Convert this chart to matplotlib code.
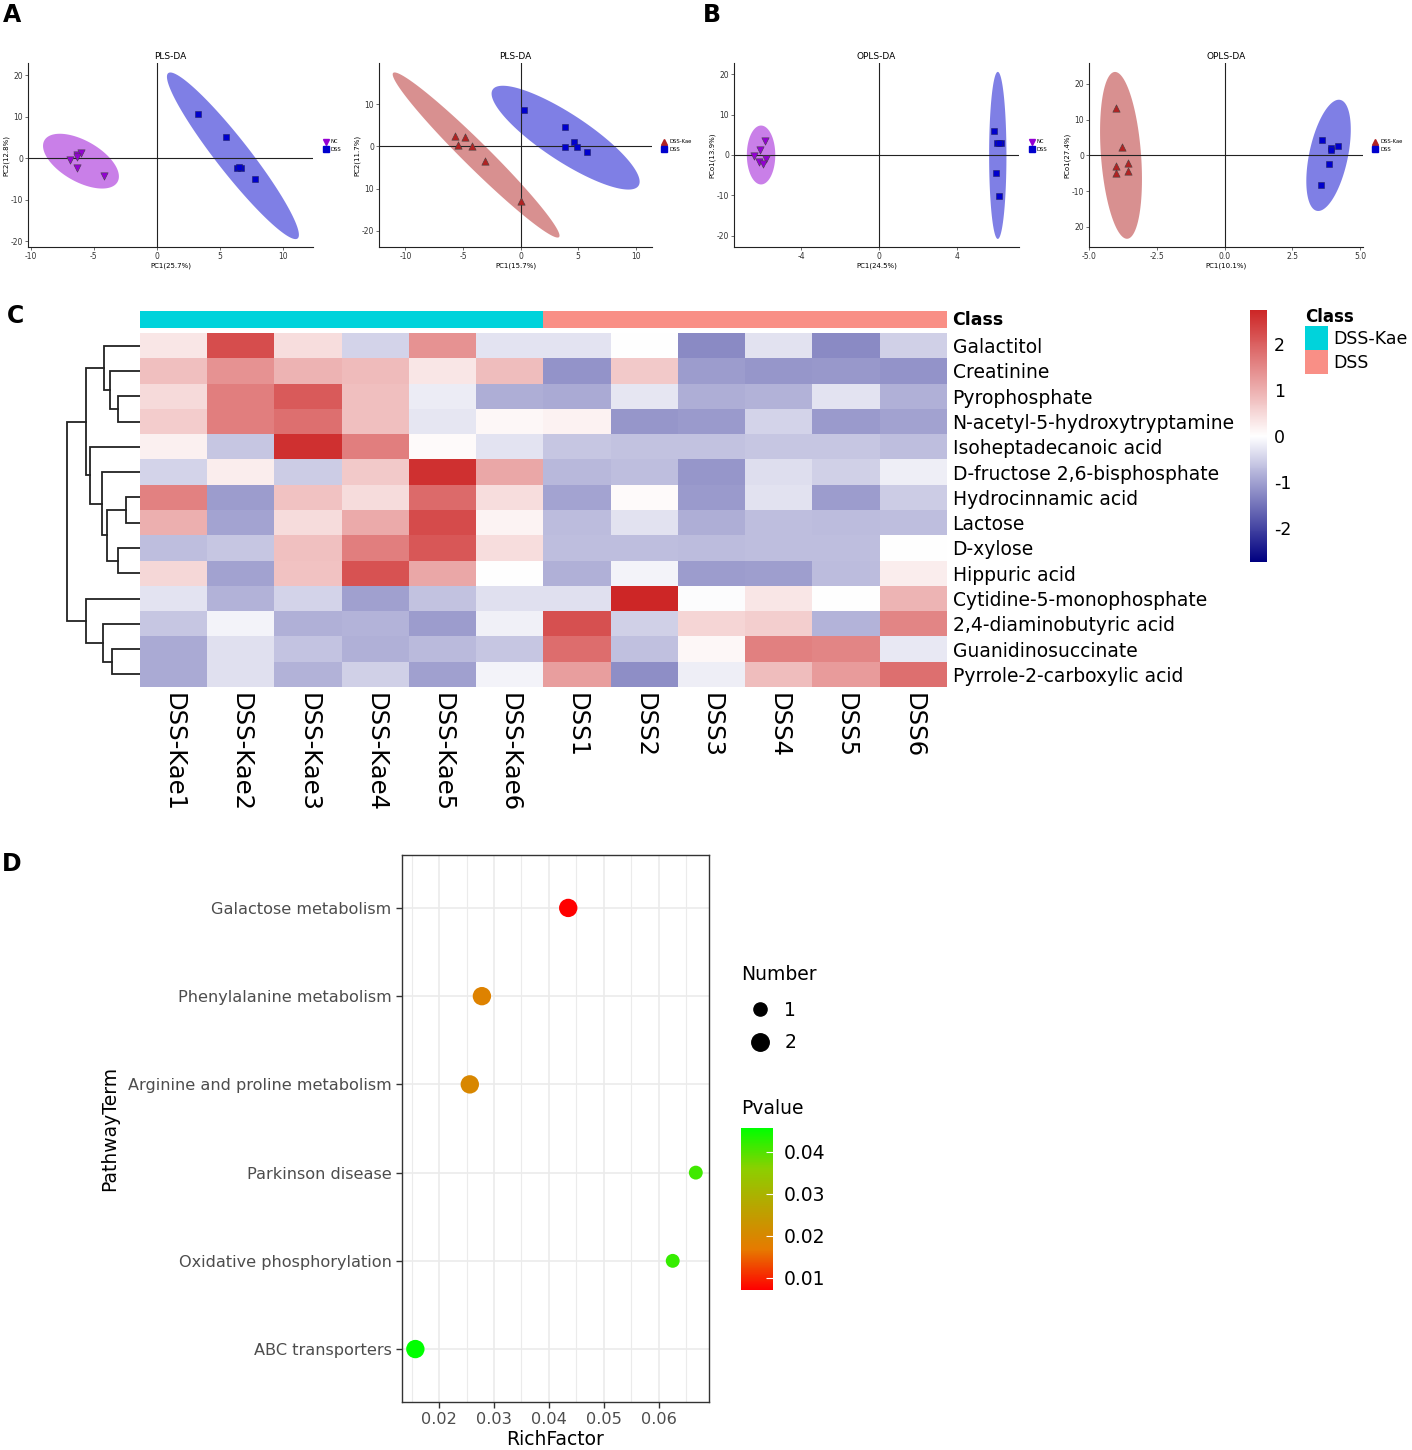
import numpy as np
import matplotlib
matplotlib.use('Agg')
import matplotlib.pyplot as plt
from matplotlib.colors import LinearSegmentedColormap, ListedColormap
from matplotlib.lines import Line2D
from matplotlib.patches import Patch

plt.rcParams['font.family'] = ['DejaVu Sans']

# ---------------- Panel A / B : score plots ----------------
# ellipse params: centre x, centre y, semi-axis-1 (dx, dy), semi-axis-2 (dx, dy)
pls1_nc_x = [-6.9, -6.3, -6.0, -6.3, -6.3, -4.2]
pls1_nc_y = [-0.5, 0.7, 1.3, 0.3, -2.3, -4.4]
pls1_dss_x = [3.3, 5.5, 6.4, 6.7, 6.5, 7.8]
pls1_dss_y = [10.6, 5.2, -2.3, -2.3, -2.2, -5.0]
pls1_nc_ell = [-6.0, -0.73, 2.9, -5.0, -0.8, -4.3]
pls1_dss_ell = [6.05, 0.56, -5.13, 19.9, 1.03, 2.5]

pls2_kae_x = [-5.66, -4.80, -5.43, -4.22, -3.06, 0.06]
pls2_kae_y = [2.37, 2.13, 0.39, 0.16, -3.39, -13.0]
pls2_dss_x = [0.29, 3.87, 4.62, 3.82, 4.91, 5.78]
pls2_dss_y = [8.5, 4.5, 0.95, -0.24, -0.16, -1.26]
pls2_kae_ell = [-3.87, -2.05, -7.2, 19.4, 0.77, 2.13]
pls2_dss_ell = [3.9, 2.05, 6.33, -11.37, -1.11, -4.62]

opls1_nc_x = [-5.87, -6.10, -6.42, -6.18, -5.82, -5.96]
opls1_nc_y = [3.55, 1.32, -0.25, -1.65, -0.99, -2.23]
opls1_dss_x = [5.89, 6.06, 6.25, 6.16, 5.99, 6.15]
opls1_dss_y = [5.87, 2.98, 2.98, 2.98, -4.46, -10.2]
opls1_nc_ell = [-6.06, 0.0, 0.0, 7.3, 0.73, 0.0]
opls1_dss_ell = [6.1, -0.1, 0.0, 20.7, 0.445, 0.0]

opls2_kae_x = [-4.01, -3.77, -4.01, -3.99, -3.56, -3.56]
opls2_kae_y = [13.2, 2.24, -2.99, -5.05, -2.24, -4.3]
opls2_dss_x = [3.58, 3.93, 3.92, 4.17, 3.83, 3.56]
opls2_dss_y = [4.3, 2.15, 1.5, 2.71, -2.43, -8.3]
opls2_kae_ell = [-3.82, 0.0, -0.234, 23.3, 0.736, 0.43]
opls2_dss_ell = [3.83, 0.0, 0.431, 15.5, 0.697, -1.11]

# ---------------- Panel C : heatmap ----------------
metabolites = ['Galactitol', 'Creatinine', 'Pyrophosphate', 'N-acetyl-5-hydroxytryptamine',
               'Isoheptadecanoic acid', 'D-fructose 2,6-bisphosphate', 'Hydrocinnamic acid',
               'Lactose', 'D-xylose', 'Hippuric acid', 'Cytidine-5-monophosphate',
               '2,4-diaminobutyric acid', 'Guanidinosuccinate', 'Pyrrole-2-carboxylic acid']
samples = ['DSS-Kae1', 'DSS-Kae2', 'DSS-Kae3', 'DSS-Kae4', 'DSS-Kae5', 'DSS-Kae6',
           'DSS1', 'DSS2', 'DSS3', 'DSS4', 'DSS5', 'DSS6']
sample_class = ['DSS-Kae'] * 6 + ['DSS'] * 6
zscores = np.array([
    [0.32, 2.23, 0.42, -0.45, 1.35, -0.28, -0.29, 0.0, -1.26, -0.30, -1.26, -0.50],
    [0.80, 1.35, 0.95, 0.85, 0.30, 0.83, -1.15, 0.67, -1.07, -1.13, -1.10, -1.15],
    [0.47, 1.62, 2.06, 0.80, -0.20, -0.86, -0.90, -0.26, -0.86, -0.83, -0.28, -0.85],
    [0.63, 1.61, 1.80, 0.80, -0.26, 0.10, 0.15, -1.13, -1.08, -0.45, -1.08, -0.99],
    [0.19, -0.62, 2.61, 1.61, 0.05, -0.28, -0.60, -0.66, -0.65, -0.60, -0.62, -0.70],
    [-0.47, 0.22, -0.54, 0.67, 2.61, 1.10, -0.76, -0.70, -1.13, -0.35, -0.50, -0.18],
    [1.57, -1.06, 0.75, 0.44, 1.88, 0.42, -0.97, 0.05, -1.08, -0.31, -1.06, -0.54],
    [1.00, -0.97, 0.44, 1.07, 2.26, 0.14, -0.72, -0.31, -0.86, -0.70, -0.72, -0.70],
    [-0.70, -0.62, 0.78, 1.61, 2.10, 0.42, -0.70, -0.70, -0.72, -0.70, -0.70, 0.0],
    [0.50, -0.99, 0.75, 2.18, 1.10, 0.0, -0.85, -0.12, -1.06, -1.04, -0.72, 0.22],
    [-0.28, -0.82, -0.45, -1.02, -0.65, -0.33, -0.34, 2.74, -0.04, 0.30, 0.0, 0.93],
    [-0.60, -0.12, -0.85, -0.80, -1.07, -0.16, 2.20, -0.51, 0.52, 0.60, -0.80, 1.54],
    [-0.90, -0.33, -0.63, -0.85, -0.74, -0.62, 1.83, -0.68, 0.10, 1.59, 1.53, -0.25],
    [-0.90, -0.33, -0.82, -0.50, -1.02, -0.11, 1.20, -1.20, -0.18, 0.83, 1.25, 1.80],
])
# row dendrogram merges: (left, right, height); new clusters numbered from 14
row_merges = [(2, 3, 67), (1, 14, 90), (0, 15, 107), (6, 7, 43), (8, 9, 67),
              (17, 18, 100), (5, 19, 113), (4, 20, 150), (16, 21, 162),
              (12, 13, 83), (11, 23, 110), (10, 24, 162), (22, 25, 220)]

# ---------------- Panel D : pathway enrichment ----------------
pathways = ['Galactose metabolism', 'Phenylalanine metabolism', 'Arginine and proline metabolism',
            'Parkinson disease', 'Oxidative phosphorylation', 'ABC transporters']
rich_factor = [0.0435, 0.0278, 0.0256, 0.0667, 0.0625, 0.0157]
hit_number = [2, 2, 2, 1, 1, 2]
pvalue = [0.0071, 0.0187, 0.0198, 0.0412, 0.0420, 0.0457]

fig = plt.figure(figsize=(14.12, 14.5), dpi=100)
W, H = 1412.0, 1450.0


def px_axes(x0, y0, x1, y1):
    return fig.add_axes([x0 / W, 1 - y1 / H, (x1 - x0) / W, (y1 - y0) / H])


def draw_ellipse(ax, e, color, alpha):
    t = np.linspace(0, 2 * np.pi, 240)
    ex = e[0] + e[2] * np.cos(t) + e[4] * np.sin(t)
    ey = e[1] + e[3] * np.cos(t) + e[5] * np.sin(t)
    ax.fill(ex, ey, color=color, alpha=alpha, lw=0, zorder=1)


purple, blue, red = '#9400D3', '#0000CD', '#B22222'


def score_plot(ax, title, g1, g2, xlab, ylab, xlim, ylim, xt, xtl, yt, ytl):
    (x1, y1, e1, c1, m1, l1) = g1
    (x2, y2, e2, c2, m2, l2) = g2
    draw_ellipse(ax, e1, c1, 0.5)
    draw_ellipse(ax, e2, c2, 0.5)
    ax.axhline(0, color='#222222', lw=0.8, zorder=2)
    ax.axvline(0, color='#222222', lw=0.8, zorder=2)
    ax.scatter(x1, y1, marker=m1, s=28, color=c1, edgecolor='#444444', lw=0.4, zorder=3)
    ax.scatter(x2, y2, marker=m2, s=15, color=c2, edgecolor='#222266', lw=0.4, zorder=3)
    ax.set_xlim(xlim)
    ax.set_ylim(ylim)
    ax.set_xticks(xt)
    ax.set_xticklabels(xtl)
    ax.set_yticks(yt)
    ax.set_yticklabels(ytl)
    ax.tick_params(labelsize=5.5, length=2, width=0.5, pad=1.5, colors='#333333')
    for s in ['top', 'right']:
        ax.spines[s].set_visible(False)
    for s in ['left', 'bottom']:
        ax.spines[s].set_linewidth(0.8)
        ax.spines[s].set_color('#222222')
    ax.set_title(title, fontsize=6.5, pad=3)
    ax.set_xlabel(xlab, fontsize=5, labelpad=1)
    ax.set_ylabel(ylab, fontsize=5, labelpad=1)
    handles = [Line2D([], [], ls='', marker=m1, color=c1, markersize=5),
               Line2D([], [], ls='', marker=m2, color=c2, markersize=4)]
    ax.legend(handles, [l1, l2], loc='center left', bbox_to_anchor=(1.02, 0.55), fontsize=3.8,
              frameon=False, handlelength=0.8, handletextpad=0.6, labelspacing=0.5)


ticks20 = [-20, -10, 0, 10, 20]
ax1 = px_axes(28, 63, 313, 247)
score_plot(ax1, 'PLS-DA',
           (pls1_nc_x, pls1_nc_y, pls1_nc_ell, purple, 'v', 'NC'),
           (pls1_dss_x, pls1_dss_y, pls1_dss_ell, blue, 's', 'DSS'),
           'PC1(25.7%)', 'PC2(12.8%)', (-10.2, 12.4), (-21.4, 22.9),
           [-10, -5, 0, 5, 10], ['-10', '-5', '0', '5', '10'], ticks20, ['-20', '-10', '0', '10', '20'])

ax2 = px_axes(379, 63, 652, 247)
score_plot(ax2, 'PLS-DA',
           (pls2_kae_x, pls2_kae_y, pls2_kae_ell, red, '^', 'DSS-Kae'),
           (pls2_dss_x, pls2_dss_y, pls2_dss_ell, blue, 's', 'DSS'),
           'PC1(15.7%)', 'PC2(11.7%)', (-12.3, 11.4), (-23.8, 19.7),
           [-10, -5, 0, 5, 10], ['-10', '-5', '0', '5', '10'], [-20, -10, 0, 10], ['-20', '10', '0', '10'])

ax3 = px_axes(734, 63, 1019, 247)
score_plot(ax3, 'OPLS-DA',
           (opls1_nc_x, opls1_nc_y, opls1_nc_ell, purple, 'v', 'NC'),
           (opls1_dss_x, opls1_dss_y, opls1_dss_ell, blue, 's', 'DSS'),
           'PC1(24.5%)', 'PCo1(13.9%)', (-7.45, 7.19), (-22.8, 22.8),
           [-4, 0, 4], ['-4', '0', '4'], ticks20, ['-20', '-10', '0', '10', '20'])

ax4 = px_axes(1089, 63, 1363, 247)
score_plot(ax4, 'OPLS-DA',
           (opls2_kae_x, opls2_kae_y, opls2_kae_ell, red, '^', 'DSS-Kae'),
           (opls2_dss_x, opls2_dss_y, opls2_dss_ell, blue, 's', 'DSS'),
           'PC1(10.1%)', 'PCo1(27.4%)', (-5.0, 5.1), (-25.6, 25.8),
           [-5, -2.5, 0, 2.5, 5], ['-5.0', '-2.5', '0.0', '2.5', '5.0'], ticks20, ['20', '-10', '0', '10', '20'])

# ---------------- heatmap ----------------
cmap_hm = LinearSegmentedColormap.from_list('nwr', ['navy', 'white', '#CD2626'])
vlim = 2.74
axh = px_axes(140, 333, 947, 687)
im = axh.imshow(zscores, aspect='auto', cmap=cmap_hm, vmin=-vlim, vmax=vlim, interpolation='nearest')
axh.set_xticks(range(len(samples)))
axh.set_xticklabels(samples, rotation=270, fontsize=17.5, va='top', ha='center')
axh.set_yticks(range(len(metabolites)))
axh.set_yticklabels(metabolites, fontsize=13.5)
axh.yaxis.tick_right()
axh.tick_params(length=0, pad=4)
for s in axh.spines.values():
    s.set_visible(False)

class_colors = {'DSS-Kae': '#00D3DB', 'DSS': '#F98F86'}
class_order = ['DSS-Kae', 'DSS']
axc = px_axes(140, 311, 947, 328)
axc.imshow([[class_order.index(c) for c in sample_class]], aspect='auto',
           cmap=ListedColormap([class_colors[c] for c in class_order]), vmin=0, vmax=1)
axc.set_xticks([])
axc.set_yticks([])
for s in axc.spines.values():
    s.set_visible(False)
fig.text(952 / W, 1 - 320 / H, 'Class', fontsize=12.5, fontweight='bold', va='center')

# dendrogram
axd = px_axes(62, 333, 140, 687)
n_leaf = len(metabolites)
pos = {i: i for i in range(n_leaf)}
hgt = {i: 0 for i in range(n_leaf)}
for k, (a, b, h) in enumerate(row_merges):
    axd.plot([hgt[a], h, h, hgt[b]], [pos[a], pos[a], pos[b], pos[b]], color='#222222', lw=1.3,
             solid_joinstyle='miter')
    pos[n_leaf + k] = (pos[a] + pos[b]) / 2
    hgt[n_leaf + k] = h
axd.set_xlim(234, 0)
axd.set_ylim(n_leaf - 0.5, -0.5)
axd.axis('off')

# heatmap colorbar
axcb = px_axes(1250, 310, 1267, 562)
cb = fig.colorbar(im, cax=axcb, ticks=[-2, -1, 0, 1, 2])
cb.ax.set_yticklabels(['-2', '-1', '0', '1', '2'])
cb.ax.tick_params(length=0, labelsize=12.5, pad=5)
cb.outline.set_visible(False)

class_handles = [Patch(facecolor=class_colors[c], edgecolor='none') for c in class_order]
fig.legend(class_handles, class_order, loc='upper left', bbox_to_anchor=(1305 / W, 1 - 308 / H),
           title='Class', title_fontproperties={'weight': 'bold', 'size': 12}, fontsize=12.5,
           frameon=False, handlelength=1.35, handleheight=1.75, handletextpad=0.3, labelspacing=0.0,
           alignment='left', borderpad=0.0, borderaxespad=0.0)

# ---------------- Panel D ----------------
cmap_rg = LinearSegmentedColormap.from_list('rg', ['#FF0000', '#E67A00', '#BBA300', '#8CCF00', '#00FF00'])
size_map = {1: 100, 2: 175}
ypos = np.arange(len(pathways))[::-1]
axp = px_axes(402, 855, 709, 1402)
axp.set_axisbelow(True)
sc = axp.scatter(rich_factor, ypos, s=[size_map[n] for n in hit_number], c=pvalue, cmap=cmap_rg,
                 vmin=min(pvalue), vmax=max(pvalue), lw=0, zorder=3)
axp.set_xlim(0.01327, 0.0691)
axp.set_ylim(-0.6, len(pathways) - 0.4)
axp.set_xticks([0.02, 0.03, 0.04, 0.05, 0.06])
axp.set_xticklabels(['0.02', '0.03', '0.04', '0.05', '0.06'])
axp.set_xticks(np.arange(0.015, 0.0691, 0.01), minor=True)
axp.set_yticks(ypos)
axp.set_yticklabels(pathways)
axp.grid(True, which='major', color='#EBEBEB', lw=1.2)
axp.grid(True, which='minor', axis='x', color='#EBEBEB', lw=0.8)
axp.tick_params(which='major', labelsize=11.6, labelcolor='#4D4D4D', color='#333333', length=4, width=1)
axp.tick_params(which='minor', length=0)
for s in axp.spines.values():
    s.set_color('#333333')
    s.set_linewidth(1.0)
axp.set_xlabel('RichFactor', fontsize=13.5, labelpad=2)
axp.set_ylabel('PathwayTerm', fontsize=13.5, labelpad=6)

fig.text(741 / W, 1 - 975 / H, 'Number', fontsize=13.5, va='center')
size_handles = [Line2D([], [], ls='', marker='o', color='black', markersize=np.sqrt(size_map[n]) * 0.95)
                for n in [1, 2]]
fig.legend(size_handles, ['1', '2'], loc='upper left', bbox_to_anchor=(741 / W, 1 - 1001 / H),
           fontsize=13.5, frameon=False, handletextpad=0.3, labelspacing=0.72,
           borderpad=0.0, borderaxespad=0.0)

axpc = px_axes(741, 1128, 773, 1290)
cb2 = fig.colorbar(sc, cax=axpc, ticks=[0.01, 0.02, 0.03, 0.04])
cb2.ax.set_yticklabels(['0.01', '0.02', '0.03', '0.04'])
cb2.ax.tick_params(length=5, width=0.8, color='white', direction='in', labelsize=13.5, pad=8)
cb2.outline.set_visible(False)
fig.text(741 / W, 1 - 1109 / H, 'Pvalue', fontsize=13.5, va='center')

# panel letters
for lab, x, y in [('A', 12, 15), ('B', 712, 15), ('C', 16, 316), ('D', 12, 864)]:
    fig.text(x / W, 1 - y / H, lab, fontsize=17, fontweight='bold', va='center', ha='center')

fig.savefig('out.png', dpi=100)
